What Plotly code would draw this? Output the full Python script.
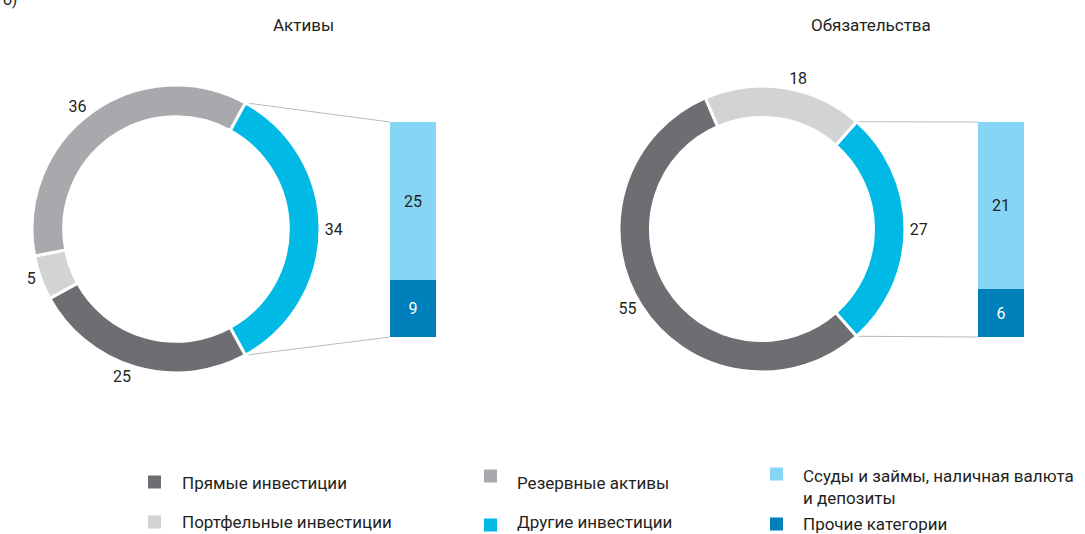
import math
import plotly.graph_objects as go

W, H = 1085, 534

# ---------------- data ----------------
assets_title = "Активы"
liab_title = "Обязательства"

assets_labels = ["Другие инвестиции", "Прямые инвестиции", "Портфельные инвестиции", "Резервные активы"]
assets_values = [34, 25, 5, 36]

liab_labels = ["Другие инвестиции", "Прямые инвестиции", "Портфельные инвестиции"]
liab_values = [27, 55, 18]

breakdown_labels = ["Прочие категории", "Ссуды и займы, наличная валюта и депозиты"]
assets_breakdown = [9, 25]
liab_breakdown = [6, 21]

legend_col1 = ["Прямые инвестиции", "Портфельные инвестиции"]
legend_col2 = ["Резервные активы", "Другие инвестиции"]
legend_col3 = ["Ссуды и займы, наличная валюта<br>и депозиты", "Прочие категории"]

# ---------------- style ----------------
FONT = "Roboto"
TXT = "#231f20"
C = {
    "Прямые инвестиции": "#6d6e71",
    "Портфельные инвестиции": "#d1d3d4",
    "Резервные активы": "#a7a9ac",
    "Другие инвестиции": "#00b9e4",
    "Ссуды и займы, наличная валюта и депозиты": "#87d5f4",
    "Прочие категории": "#0080ba",
}


def px_x(x):
    return x / W


def px_y(y):
    return 1 - y / H


def pie_domain(cx, cy, r):
    return dict(x=[px_x(cx - r), px_x(cx + r)], y=[px_y(cy + r), px_y(cy - r)])


fig = go.Figure()

pies = [
    dict(labels=assets_labels, values=assets_values, cx=176, cy=229, r=144,
         bx=(390, 436), bvals=assets_breakdown, ax="", title=assets_title, tx=303),
    dict(labels=liab_labels, values=liab_values, cx=762, cy=229, r=143,
         bx=(978, 1024), bvals=liab_breakdown, ax="2", title=liab_title, tx=871),
]

BAR_TOP, BAR_BOT = 122, 337
shapes = []
annotations = []

for p in pies:
    total = sum(p["values"])
    first_span = 360 * p["values"][0] / total
    rot = 90 - first_span / 2
    fig.add_trace(go.Pie(
        labels=p["labels"], values=p["values"], sort=False, direction="clockwise",
        rotation=rot, hole=0.78, domain=pie_domain(p["cx"], p["cy"], p["r"]),
        marker=dict(colors=[C[l] for l in p["labels"]], line=dict(color="white", width=3)),
        textinfo="value", textposition="outside",
        outsidetextfont=dict(family=FONT, size=16, color=TXT),
        showlegend=False, hoverinfo="label+value",
    ))
    # stacked breakdown bar
    ax = p["ax"]
    for lab, v in zip(breakdown_labels, p["bvals"]):
        fig.add_trace(go.Bar(
            x=[0], y=[v], name=lab, marker=dict(color=C[lab], line=dict(width=0)),
            text=[str(v)], textposition="inside", insidetextanchor="middle",
            textangle=0, textfont=dict(family=FONT, size=16,
                                       color="white" if lab == "Прочие категории" else TXT),
            xaxis="x" + ax, yaxis="y" + ax, showlegend=False, width=1,
        ))
    btot = sum(p["bvals"])
    fig.update_layout(**{
        "xaxis" + ax: dict(domain=[px_x(p["bx"][0]), px_x(p["bx"][1])], range=[-0.5, 0.5],
                           visible=False, fixedrange=True),
        "yaxis" + ax: dict(domain=[px_y(BAR_BOT), px_y(BAR_TOP)], range=[0, btot],
                           visible=False, fixedrange=True),
    })
    # connector lines from the pie edge of the first slice to the bar corners
    a0 = math.radians(rot)
    a1 = math.radians(rot + first_span)
    for a, yb in ((a0, BAR_TOP), (a1, BAR_BOT)):
        x0 = p["cx"] + p["r"] * math.sin(a)
        y0 = p["cy"] - p["r"] * math.cos(a)
        shapes.append(dict(type="line", xref="paper", yref="paper",
                           x0=px_x(x0), y0=px_y(y0), x1=px_x(p["bx"][0]), y1=px_y(yb),
                           line=dict(color="#b8b9bb", width=1), layer="below"))
    annotations.append(dict(text=p["title"], x=px_x(p["tx"]), y=px_y(25), xref="paper",
                            yref="paper", showarrow=False, xanchor="center", yanchor="middle",
                            font=dict(family=FONT, size=17, color=TXT)))

# panel letter (cut off at the top in the original)
annotations.append(dict(text="б)", x=px_x(1), y=px_y(-1), xref="paper", yref="paper",
                        showarrow=False, xanchor="left", yanchor="middle",
                        font=dict(family=FONT, size=16, color=TXT)))

# manual legend
legend_items = [
    (legend_col1[0], C["Прямые инвестиции"], 148, 482, 180, 483),
    (legend_col1[1], C["Портфельные инвестиции"], 148, 522, 180, 522),
    (legend_col2[0], C["Резервные активы"], 484, 476, 515, 483),
    (legend_col2[1], C["Другие инвестиции"], 484, 525, 515, 522),
    (legend_col3[0], C["Ссуды и займы, наличная валюта и депозиты"], 770, 474, 801, 487),
    (legend_col3[1], C["Прочие категории"], 770, 524, 801, 524),
]
for text, col, sx, sy, tx, ty in legend_items:
    shapes.append(dict(type="rect", xref="paper", yref="paper",
                       x0=px_x(sx), x1=px_x(sx + 13), y0=px_y(sy + 6.5), y1=px_y(sy - 6.5),
                       fillcolor=col, line=dict(width=0)))
    annotations.append(dict(text=text, x=px_x(tx), y=px_y(ty), xref="paper", yref="paper",
                            showarrow=False, xanchor="left", yanchor="middle", align="left",
                            font=dict(family=FONT, size=17, color=TXT)))

fig.update_layout(
    width=W, height=H, margin=dict(l=0, r=0, t=0, b=0),
    paper_bgcolor="white", plot_bgcolor="white",
    barmode="stack", bargap=0,
    shapes=shapes, annotations=annotations,
    font=dict(family=FONT, size=16, color=TXT),
)

fig.write_html("out.html", config={"displayModeBar": False},
               post_script="document.body.style.margin='0';document.body.style.padding='0';")
